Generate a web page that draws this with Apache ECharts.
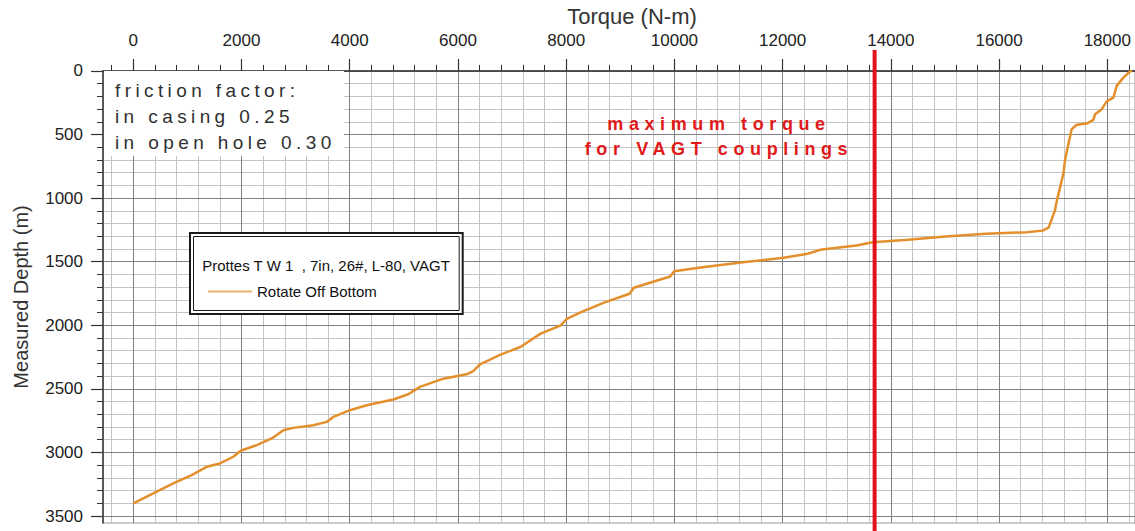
<!DOCTYPE html>
<html><head><meta charset="utf-8">
<script src="https://cdn.jsdelivr.net/npm/echarts@6/dist/echarts.min.js"></script>
<style>
html,body{margin:0;padding:0;background:#fff;}
#c{width:1135px;height:531px;}
#c text[fill="#303030"]{letter-spacing:4.4px;}
#c text[fill="#e01a1a"]{letter-spacing:5.6px;}
</style></head><body><div id="c"></div>
<script>
// ---- data ----
const torque = [0, 370, 739, 1079, 1356, 1602, 1848, 1985, 2281, 2587, 2772, 2957, 3326, 3574, 3696, 4004, 4313, 4805, 5082, 5298, 5729, 6160, 6283, 6407, 6777, 7153, 7527, 7901, 8012, 8274, 8723, 9172, 9248, 9921, 9996, 10519, 11268, 12016, 12465, 12690, 13364, 13663, 14261, 15010, 15758, 16507, 16806, 16918, 17031, 17068, 17127, 17188, 17219, 17281, 17342, 17435, 17619, 17743, 17774, 17897, 17989, 18112, 18174, 18297, 18420, 18457];
const depth  = [3400, 3322, 3243, 3178, 3113, 3087, 3034, 2987, 2943, 2883, 2825, 2807, 2786, 2760, 2721, 2668, 2629, 2584, 2543, 2485, 2420, 2386, 2360, 2307, 2233, 2171, 2066, 2001, 1949, 1897, 1818, 1752, 1705, 1617, 1575, 1544, 1504, 1470, 1438, 1407, 1373, 1347, 1329, 1303, 1281, 1269, 1256, 1230, 1099, 1020, 916, 811, 700, 575, 458, 424, 414, 385, 340, 301, 240, 210, 118, 53, 5, 0];
const maxCouplingTorque = 13700;
const maxLineDepthSpan = [-165, 3640];
const torqueMajorTicks = [0, 2000, 4000, 6000, 8000, 10000, 12000, 14000, 16000, 18000];
const torqueMinorTicks = [-400, 400, 800, 1200, 1600, 2400, 2800, 3200, 3600, 4400, 4800, 5200, 5600, 6400, 6800, 7200, 7600, 8400, 8800, 9200, 9600, 10400, 10800, 11200, 11600, 12400, 12800, 13200, 13600, 14400, 14800, 15200, 15600, 16400, 16800, 17200, 17600, 18400];
const depthMajorTicks = [0, 500, 1000, 1500, 2000, 2500, 3000, 3500];
const depthMinorTicks = [100, 200, 300, 400, 600, 700, 800, 900, 1100, 1200, 1300, 1400, 1600, 1700, 1800, 1900, 2100, 2200, 2300, 2400, 2600, 2700, 2800, 2900, 3100, 3200, 3300, 3400];
const seriesName = 'Rotate Off Bottom';
const legendTitle = 'Prottes T W 1  , 7in, 26#, L-80, VAGT';
const frictionNote = 'friction factor:\nin casing 0.25\nin open hole 0.30';
const couplingNote = 'maximum torque\nfor VAGT couplings';

const FONT = '"Liberation Sans", Arial, sans-serif';
const X_MIN = -560, X_MAX = 18512, Y_MIN = 0, Y_MAX = 3555;

const chart = echarts.init(document.getElementById('c'), null, {renderer: 'svg', width: 1135, height: 531});

const axisLineStyle = {color: '#333', width: 1.5};
const plain = v => String(v);
const option = {
  animation: false,
  backgroundColor: '#fff',
  grid: {left: 103, top: 70, width: 1032, height: 453, show: true, borderColor: '#999', borderWidth: 1, backgroundColor: 'transparent'},
  xAxis: [
    {
      type: 'value', position: 'top', min: X_MIN, max: X_MAX, z: 2,
      name: 'Torque (N-m)', nameLocation: 'middle', nameGap: 42,
      nameTextStyle: {fontSize: 22, fontFamily: FONT, color: '#333', padding: [0, 0, 0, 26]},
      axisLine: {show: true, onZero: false, lineStyle: axisLineStyle},
      axisTick: {show: true, length: 12, customValues: torqueMajorTicks, lineStyle: {color: '#333', width: 1.2}},
      axisLabel: {show: true, customValues: torqueMajorTicks, formatter: plain, margin: 22, fontSize: 17, fontFamily: FONT, color: '#222'},
      splitLine: {show: true, lineStyle: {color: '#808080', width: 1}}
    },
    {
      type: 'value', position: 'top', min: X_MIN, max: X_MAX, z: 1,
      axisLine: {show: false, onZero: false},
      axisTick: {show: true, length: 6, customValues: torqueMinorTicks, lineStyle: {color: '#333', width: 1}},
      axisLabel: {show: false},
      splitLine: {show: true, lineStyle: {color: '#c4c4c4', width: 1}}
    }
  ],
  yAxis: [
    {
      type: 'value', position: 'left', inverse: true, min: Y_MIN, max: Y_MAX, z: 2,
      name: 'Measured Depth (m)', nameLocation: 'middle', nameGap: 72, nameRotate: 90,
      nameTextStyle: {fontSize: 20, fontFamily: FONT, color: '#333'},
      axisLine: {show: true, onZero: false, lineStyle: axisLineStyle},
      axisTick: {show: true, length: 12, customValues: depthMajorTicks, lineStyle: {color: '#333', width: 1.2}},
      axisLabel: {show: true, customValues: depthMajorTicks, formatter: plain, margin: 20, fontSize: 17, fontFamily: FONT, color: '#222'},
      splitLine: {show: true, lineStyle: {color: '#808080', width: 1}}
    },
    {
      type: 'value', position: 'left', inverse: true, min: Y_MIN, max: Y_MAX, z: 1,
      axisLine: {show: false, onZero: false},
      axisTick: {show: true, length: 6, customValues: depthMinorTicks, lineStyle: {color: '#333', width: 1}},
      axisLabel: {show: false},
      splitLine: {show: true, lineStyle: {color: '#c4c4c4', width: 1}}
    }
  ],
  legend: {
    data: [{name: seriesName, itemStyle: {color: '#e9b46a'}}],
    left: 203, top: 279, icon: 'rect', itemWidth: 44, itemHeight: 2, z: 100,
    textStyle: {fontSize: 15, fontFamily: FONT, color: '#111'}
  },
  graphic: [
    {type: 'rect', z: 10, shape: {x: 104, y: 71, width: 240, height: 85}, style: {fill: '#fff'}},
    {type: 'text', z: 11, x: 115, y: 77, style: {text: frictionNote, fontSize: 19, lineHeight: 26, fontFamily: FONT, fill: '#303030', textAlign: 'left', textVerticalAlign: 'top'}},
    {type: 'text', z: 11, x: 719, y: 111, style: {text: couplingNote, fontSize: 18, fontWeight: 'bold', lineHeight: 25.5, fontFamily: FONT, fill: '#e01a1a', textAlign: 'center', textVerticalAlign: 'top'}},
    {type: 'rect', z: 50, shape: {x: 190, y: 233, width: 272.7, height: 81}, style: {fill: '#fff', stroke: '#1a1a1a', lineWidth: 2}},
    {type: 'rect', z: 51, shape: {x: 193.5, y: 236.5, width: 265.7, height: 74}, style: {fill: 'none', stroke: '#1a1a1a', lineWidth: 1}},
    {type: 'text', z: 52, x: 326, y: 265, style: {text: legendTitle, fontSize: 15, fontFamily: FONT, fill: '#111', textAlign: 'center', textVerticalAlign: 'middle'}}
  ],
  series: [
    {
      name: seriesName, type: 'line', xAxisIndex: 0, yAxisIndex: 0, z: 5,
      data: torque.map((t, i) => [t, depth[i]]),
      symbol: 'none', lineStyle: {color: '#e38f2c', width: 2.5}, itemStyle: {color: '#e38f2c'}
    },
    {
      name: 'Maximum torque for VAGT couplings', type: 'line', xAxisIndex: 0, yAxisIndex: 0, z: 6, clip: false, silent: true,
      data: [[maxCouplingTorque, maxLineDepthSpan[0]], [maxCouplingTorque, maxLineDepthSpan[1]]],
      symbol: 'none', lineStyle: {color: '#e0141a', width: 4}
    }
  ]
};
chart.setOption(option);
</script></body></html>
